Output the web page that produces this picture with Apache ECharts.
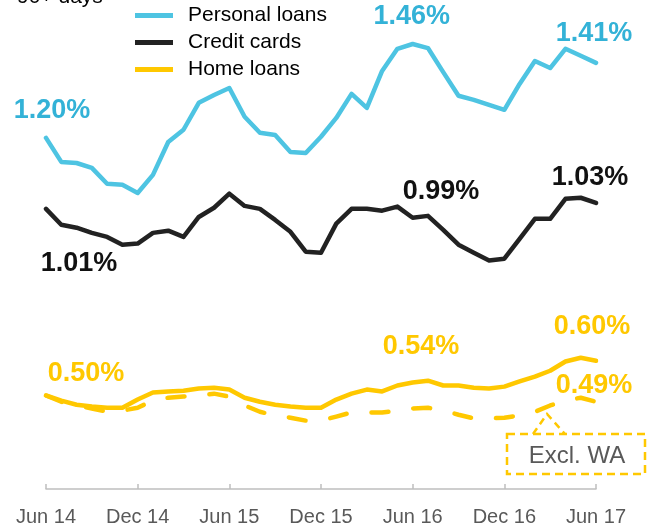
<!DOCTYPE html>
<html>
<head>
<meta charset="utf-8">
<script src="https://cdn.jsdelivr.net/npm/echarts@6/dist/echarts.min.js"></script>
<style>
  html, body { margin: 0; padding: 0; background: #fff; }
  #chart { width: 657px; height: 527px; }
</style>
</head>
<body>
<div id="chart"></div>
<script>
// 月份 Jun 14 - Jun 17
var months = ['Jun 14', 'Jul 14', 'Aug 14', 'Sep 14', 'Oct 14', 'Nov 14', 'Dec 14',
  'Jan 15', 'Feb 15', 'Mar 15', 'Apr 15', 'May 15', 'Jun 15',
  'Jul 15', 'Aug 15', 'Sep 15', 'Oct 15', 'Nov 15', 'Dec 15',
  'Jan 16', 'Feb 16', 'Mar 16', 'Apr 16', 'May 16', 'Jun 16',
  'Jul 16', 'Aug 16', 'Sep 16', 'Oct 16', 'Nov 16', 'Dec 16',
  'Jan 17', 'Feb 17', 'Mar 17', 'Apr 17', 'May 17', 'Jun 17']

// 90+ days arrears (%)
var personalLoans = [1.200, 1.135, 1.132, 1.119, 1.076, 1.073, 1.051, 1.100, 1.189, 1.222, 1.295, 1.316, 1.335,
  1.257, 1.214, 1.208, 1.162, 1.159, 1.203, 1.254, 1.319, 1.281, 1.381, 1.441, 1.454,
  1.443, 1.378, 1.314, 1.303, 1.289, 1.276, 1.346, 1.408, 1.389, 1.441, 1.422, 1.403]
var creditCards = [1.008, 0.965, 0.957, 0.943, 0.932, 0.911, 0.914, 0.943, 0.949, 0.932, 0.986, 1.011, 1.049,
  1.016, 1.008, 0.978, 0.946, 0.892, 0.889, 0.968, 1.008, 1.008, 1.003, 1.014, 0.984,
  0.989, 0.951, 0.911, 0.889, 0.868, 0.873, 0.927, 0.981, 0.981, 1.035, 1.038, 1.024]
var homeLoans = [0.503, 0.489, 0.478, 0.473, 0.470, 0.470, 0.492, 0.511, 0.514, 0.516, 0.522, 0.524, 0.519,
  0.497, 0.486, 0.478, 0.473, 0.470, 0.470, 0.492, 0.508, 0.519, 0.514, 0.530, 0.538,
  0.543, 0.530, 0.530, 0.524, 0.522, 0.527, 0.541, 0.554, 0.570, 0.595, 0.605, 0.597]
var homeExclWA = [0.503, 0.486, 0.476, 0.468, 0.459, 0.462, 0.470, 0.489, 0.497, 0.500, 0.503, 0.508, 0.500,
  0.476, 0.459, 0.449, 0.443, 0.435, 0.435, 0.446, 0.457, 0.457, 0.457, 0.462, 0.468,
  0.470, 0.462, 0.451, 0.441, 0.441, 0.443, 0.449, 0.459, 0.476, 0.489, 0.497, 0.486]

// 标注: 数据点序号 + 文字
var personalLabels = [[0, '1.20%'], [24, '1.46%'], [36, '1.41%']]
var creditLabels = [[0, '1.01%'], [25, '0.99%'], [36, '1.03%']]
var homeLabels = [[0, '0.50%'], [25, '0.54%'], [36, '0.60%']]
var exclLabels = [[36, '0.49%']]

var BLUE = '#4EC4E2'
var BLUE_TEXT = '#33B2D7'
var BLACK = '#222222'
var YELLOW = '#FFC800'
var FONT = 'Liberation Sans, Arial, sans-serif'

// 标注偏移 (像素)
var offsets = {
  personal: [[6, -27], [-1, -27], [-2, -29]],
  credit: [[33, 55], [13, -24], [-6, -25]],
  home: [[40, -22], [-7, -34], [-4, -34]],
  excl: [[-2, -16]]
}

function marks (labels, values, offs, color) {
  return {
    symbol: 'circle',
    symbolSize: 1,
    itemStyle: { color: 'rgba(0,0,0,0)' },
    silent: true,
    label: {
      show: true,
      position: 'inside',
      color: color,
      fontSize: 27,
      fontWeight: 'bold',
      fontFamily: FONT
    },
    data: labels.map(function (l, k) {
      return {
        coord: [months[l[0]], values[l[0]]],
        label: { formatter: l[1], offset: offs[k] }
      }
    })
  }
}

function lineSeries (name, values, color, dashed) {
  return {
    name: name,
    type: 'line',
    data: values,
    symbol: 'none',
    color: color,
    itemStyle: { color: color },
    lineStyle: {
      color: color,
      width: 4.5,
      type: dashed ? [17, 25] : 'solid',
      cap: 'round',
      join: 'round'
    },
    z: dashed ? 2 : 3
  }
}

var chart = echarts.init(document.getElementById('chart'))

var sPersonal = lineSeries('Personal loans', personalLoans, BLUE)
sPersonal.markPoint = marks(personalLabels, personalLoans, offsets.personal, BLUE_TEXT)
var sCredit = lineSeries('Credit cards', creditCards, BLACK)
sCredit.markPoint = marks(creditLabels, creditCards, offsets.credit, '#111111')
var sHome = lineSeries('Home loans', homeLoans, YELLOW)
sHome.markPoint = marks(homeLabels, homeLoans, offsets.home, YELLOW)
var sExcl = lineSeries('Excl. WA', homeExclWA, YELLOW, true)
sExcl.markPoint = marks(exclLabels, homeExclWA, offsets.excl, YELLOW)

var option = {
  animation: false,
  backgroundColor: '#fff',
  grid: { left: 46, right: 61, top: 27, bottom: 37 },
  legend: {
    data: ['Personal loans', 'Credit cards', 'Home loans'],
    orient: 'vertical',
    left: 135,
    top: 5,
    padding: 0,
    icon: 'rect',
    itemWidth: 38,
    itemHeight: 5,
    itemGap: 6,
    selectedMode: false,
    textStyle: {
      fontSize: 21,
      lineHeight: 21,
      color: '#000',
      fontFamily: FONT,
      padding: [0, 0, 0, 10]
    }
  },
  xAxis: {
    type: 'category',
    data: months,
    boundaryGap: false,
    axisLine: { lineStyle: { color: '#BFBFBF', width: 1.5 } },
    axisTick: { show: true, inside: true, length: 5, interval: 5, lineStyle: { color: '#BFBFBF', width: 1.5 } },
    axisLabel: { interval: 5, margin: 18, fontSize: 20, color: '#595959', fontFamily: FONT },
    splitLine: { show: false }
  },
  yAxis: {
    type: 'value',
    min: 0.25,
    max: 1.5,
    show: false
  },
  graphic: [
    // 标题被裁掉一部分
    {
      type: 'text', left: 17, top: -13,
      style: { text: '90+ days', fontSize: 21, fill: '#000', fontFamily: FONT }
    },
    // Excl. WA 标注框
    {
      type: 'rect',
      shape: { x: 507, y: 434, width: 138, height: 40 },
      style: { fill: 'none', stroke: YELLOW, lineWidth: 2.5, lineDash: [8, 5] }
    },
    {
      type: 'polyline',
      shape: { points: [[533, 434], [547, 414], [565, 434]] },
      style: { fill: 'none', stroke: YELLOW, lineWidth: 2.5, lineDash: [7, 5] }
    },
    {
      type: 'text', x: 577, y: 456,
      style: { text: 'Excl. WA', fontSize: 24, fill: '#595959', fontFamily: FONT, align: 'center', verticalAlign: 'middle' }
    }
  ],
  series: [sExcl, sHome, sCredit, sPersonal]
}

chart.setOption(option)
</script>
</body>
</html>
